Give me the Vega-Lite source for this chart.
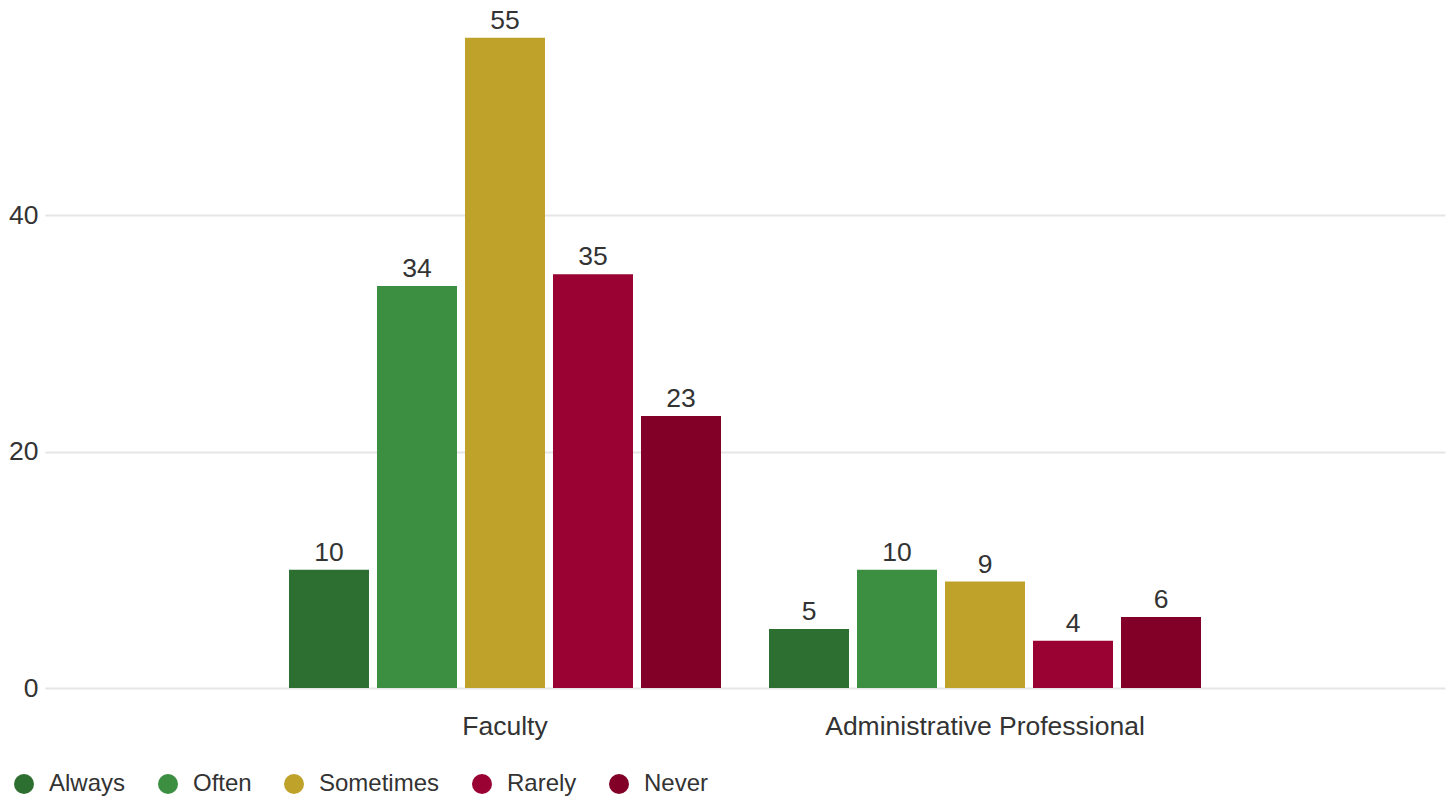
{
  "$schema": "https://vega.github.io/schema/vega-lite/v6.json",
  "width": 1400,
  "height": 688,
  "autosize": {"type": "none"},
  "padding": {"left": 45, "top": 0, "right": 6, "bottom": 112},
  "background": "#ffffff",
  "config": {
    "font": "Liberation Sans",
    "view": {"stroke": null},
    "axis": {"labelFont": "Liberation Sans", "labelColor": "#333333", "labelFontSize": 26.5}
  },
  "data": {
    "values": [
      {"group": "Faculty", "answer": "Always", "count": 10},
      {"group": "Faculty", "answer": "Often", "count": 34},
      {"group": "Faculty", "answer": "Sometimes", "count": 55},
      {"group": "Faculty", "answer": "Rarely", "count": 35},
      {"group": "Faculty", "answer": "Never", "count": 23},
      {"group": "Administrative Professional", "answer": "Always", "count": 5},
      {"group": "Administrative Professional", "answer": "Often", "count": 10},
      {"group": "Administrative Professional", "answer": "Sometimes", "count": 9},
      {"group": "Administrative Professional", "answer": "Rarely", "count": 4},
      {"group": "Administrative Professional", "answer": "Never", "count": 6}
    ]
  },
  "encoding": {
    "x": {
      "field": "group",
      "type": "nominal",
      "sort": ["Faculty", "Administrative Professional"],
      "scale": {"paddingInner": 0.1, "paddingOuter": 0.5083},
      "axis": {"title": null, "labelAngle": 0, "ticks": false, "domain": false, "labelPadding": 25, "labelLimit": 600}
    },
    "xOffset": {
      "field": "answer",
      "type": "nominal",
      "sort": ["Always", "Often", "Sometimes", "Rarely", "Never"],
      "scale": {"paddingInner": 0.0909, "paddingOuter": 0}
    },
    "y": {
      "field": "count",
      "type": "quantitative",
      "scale": {"domain": [0, 58.2], "nice": false, "zero": true},
      "axis": {"title": null, "values": [0, 20, 40], "grid": true, "gridColor": "#e6e6e6", "gridWidth": 2, "domain": false, "ticks": false, "labelPadding": 7}
    }
  },
  "layer": [
    {
      "mark": {"type": "bar"},
      "encoding": {
        "color": {
          "field": "answer",
          "type": "nominal",
          "sort": ["Always", "Often", "Sometimes", "Rarely", "Never"],
          "scale": {
            "domain": ["Always", "Often", "Sometimes", "Rarely", "Never"],
            "range": ["#2d6e31", "#3c8f40", "#bfa22a", "#990232", "#820027"]
          },
          "legend": {
            "title": null,
            "orient": "none",
            "direction": "horizontal",
            "legendX": -33,
            "legendY": 772,
            "symbolType": "circle",
            "symbolSize": 400,
            "symbolStrokeWidth": 0,
            "labelFontSize": 24,
            "labelColor": "#333333",
            "labelFont": "Liberation Sans",
            "labelOffset": 13,
            "columnPadding": 30,
            "padding": 0
          }
        }
      }
    },
    {
      "mark": {"type": "text", "fontSize": 26.5, "color": "#333333", "baseline": "alphabetic", "dy": -9, "font": "Liberation Sans"},
      "encoding": {
        "text": {"field": "count", "type": "quantitative"}
      }
    }
  ]
}
